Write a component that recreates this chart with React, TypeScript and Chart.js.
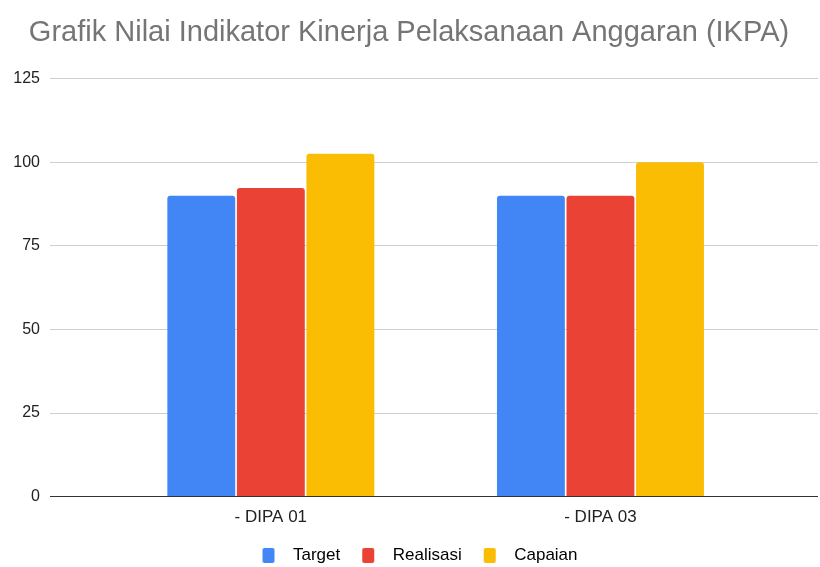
import React, { useEffect, useRef } from "react";
import { Chart, registerables } from "chart.js";

Chart.register(...registerables);

const TITLE = "Grafik Nilai Indikator Kinerja Pelaksanaan Anggaran (IKPA)";
const categories = ["- DIPA 01", "- DIPA 03"];
const seriesNames = ["Target", "Realisasi", "Capaian"];
const targetValues = [90, 90];
const realisasiValues = [92.3, 90];
const capaianValues = [102.56, 100];
const yTicks = [0, 25, 50, 75, 100, 125];

const COLORS = ["#4285F4", "#EA4335", "#FBBC04"];
const FONT = "'Liberation Sans', Arial, sans-serif";

const SW_LEAD = 22;

function legendSwatch(color: string): HTMLCanvasElement {
  const c = document.createElement("canvas");
  c.width = SW_LEAD + 12 + 10;
  c.height = 15;
  const ctx = c.getContext("2d")!;
  ctx.fillStyle = color;
  const x = SW_LEAD, y = 0, w = 12, h = 15, r = 2;
  ctx.beginPath();
  ctx.moveTo(x + r, y);
  ctx.lineTo(x + w - r, y);
  ctx.quadraticCurveTo(x + w, y, x + w, y + r);
  ctx.lineTo(x + w, y + h - r);
  ctx.quadraticCurveTo(x + w, y + h, x + w - r, y + h);
  ctx.lineTo(x + r, y + h);
  ctx.quadraticCurveTo(x, y + h, x, y + h - r);
  ctx.lineTo(x, y + r);
  ctx.quadraticCurveTo(x, y, x + r, y);
  ctx.closePath();
  ctx.fill();
  return c;
}

export default function App() {
  const ref = useRef<HTMLCanvasElement | null>(null);

  useEffect(() => {
    if (!ref.current) return;
    const seriesValues = [targetValues, realisasiValues, capaianValues];
    const swatches = COLORS.map(legendSwatch);
    const chart = new Chart(ref.current, {
      type: "bar",
      data: {
        datasets: seriesNames.map((name, s) => ({
          label: name,
          data: seriesValues[s].map((v, i) => ({ x: i, y: v })),
          backgroundColor: COLORS[s],
          borderRadius: { topLeft: 3, topRight: 3, bottomLeft: 0, bottomRight: 0 },
          borderSkipped: false,
          categoryPercentage: 0.633,
          barPercentage: 0.976,
        })),
      },
      options: {
        responsive: false,
        animation: false,
        layout: { padding: { left: 0, right: 2, top: 0, bottom: -7 } },
        plugins: {
          title: {
            display: true,
            text: TITLE,
            color: "#757575",
            font: { family: FONT, size: 29, weight: "normal" },
            padding: { top: 16, bottom: 28 },
          },
          legend: {
            position: "bottom",
            labels: {
              usePointStyle: true,
              pointStyleWidth: SW_LEAD + 22,
              padding: 0,
              color: "#222",
              font: { family: FONT, size: 17 },
              generateLabels: (ch: any) =>
                ch.data.datasets.map((ds: any, i: number) => ({
                  text: ds.label,
                  fillStyle: COLORS[i],
                  strokeStyle: COLORS[i],
                  lineWidth: 0,
                  pointStyle: swatches[i],
                  hidden: false,
                  datasetIndex: i,
                })),
            },
          },
          tooltip: { enabled: false },
        },
        scales: {
          x: {
            type: "linear",
            offset: false,
            min: -0.67,
            max: 1.66,
            grid: { display: false, drawTicks: false },
            border: { display: false },
            afterBuildTicks: (axis: any) => {
              axis.ticks = categories.map((_, i) => ({ value: i }));
            },
            afterFit: (scale: any) => {
              scale.height += 8;
            },
            ticks: {
              autoSkip: false,
              maxRotation: 0,
              padding: 11,
              color: "#222",
              font: { family: FONT, size: 17 },
              callback: (v: any) => categories[v as number] ?? "",
            },
          },
          y: {
            min: 0,
            max: 125,
            afterBuildTicks: (axis: any) => {
              axis.ticks = yTicks.map((v) => ({ value: v }));
            },
            afterFit: (scale: any) => {
              scale.width = 50;
            },
            grid: {
              drawTicks: false,
              color: (ctx: any) => (ctx.tick && ctx.tick.value === 0 ? "#333" : "#cfcfcf"),
              lineWidth: 1,
            },
            border: { display: false },
            ticks: {
              padding: 10,
              color: "#222",
              font: { family: FONT, size: 16 },
            },
          },
        },
      },
    } as any);
    return () => chart.destroy();
  }, []);

  return (
    <div style={{ position: "fixed", left: 0, top: 0, width: 820, height: 567, background: "#fff" }}>
      <canvas ref={ref} width={820} height={567} />
    </div>
  );
}
